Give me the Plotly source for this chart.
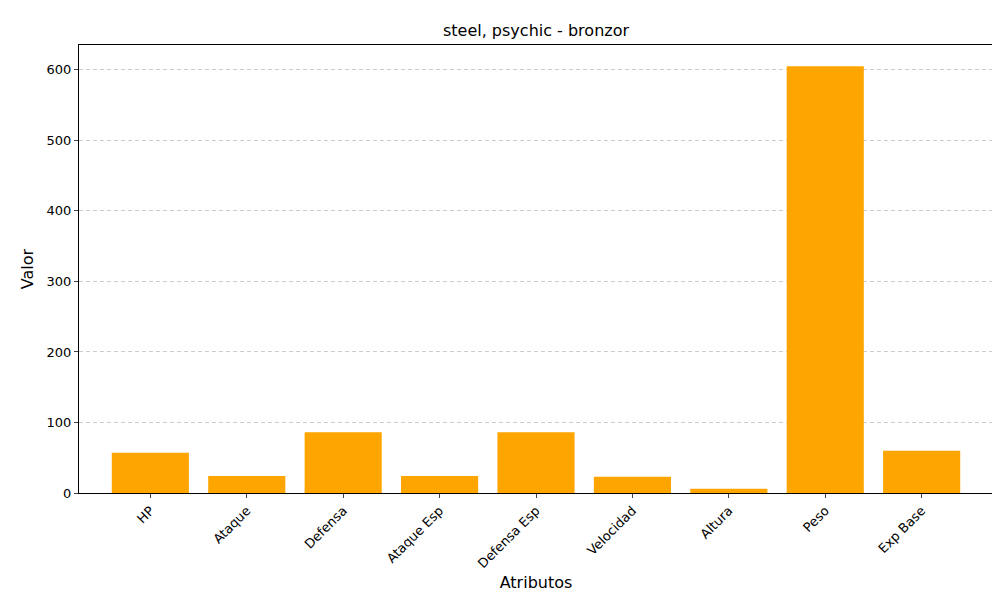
import plotly.graph_objects as go

categorias = ["HP", "Ataque", "Defensa", "Ataque Esp", "Defensa Esp", "Velocidad", "Altura", "Peso", "Exp Base"]
valores = [57, 24, 86, 24, 86, 23, 6, 605, 60]

fig = go.Figure(go.Bar(x=list(range(len(categorias))), y=valores, marker_color="#FFA500",
                       marker_line_width=0, width=0.8))
fig.update_layout(
    width=1000, height=600, plot_bgcolor="white", paper_bgcolor="white",
    margin=dict(l=71, r=15, t=37, b=115, autoexpand=False),
    font=dict(family="DejaVu Sans", size=13, color="black"),
    title=dict(text="steel, psychic - bronzor", x=0.528, xanchor="center", y=0.962, yanchor="middle",
               font=dict(size=16)),
    showlegend=False, bargap=0.2,
)
fig.update_xaxes(range=[-0.74, 8.74], tickvals=list(range(len(categorias))), ticktext=categorias,
                 tickangle=-45, showline=True, linecolor="black", mirror=True, ticks="outside",
                 ticklen=4, title=dict(text="Atributos", standoff=6), showgrid=False, automargin=False,
                 tickfont=dict(size=13))
fig.update_yaxes(range=[0, 635.25], tickvals=[0, 100, 200, 300, 400, 500, 600], showline=True,
                 linecolor="black", mirror=True, ticks="outside", ticklen=4,
                 showgrid=True, gridcolor="#cccccc", griddash="4px,3px", zeroline=False,
                 title=dict(text="Valor", standoff=8), automargin=False, tickfont=dict(size=13))
fig.write_html("out.html")
